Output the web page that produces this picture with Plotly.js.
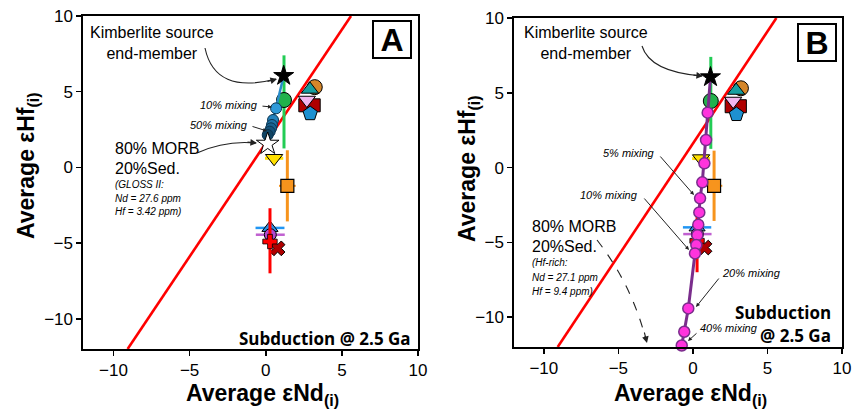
<!DOCTYPE html>
<html><head><meta charset="utf-8">
<script src="https://cdn.plot.ly/plotly-3.0.1.min.js"></script>
<style>body{margin:0;background:#fff}#chart{width:858px;height:409px}</style>
</head><body><div id="chart"></div>
<script>
// ---- data (εNd(i), εHf(i)) ----
const arrayNd = [-9.07, 5.6];          // terrestrial array line
const arrayHf = [-12, 10];
const kimNd = [1.18], kimHf = [6.05];  // kimberlite source end-member
const greenNd = [1.2], greenHf = [4.45], greenErrUp = [2.95], greenErrDn = [3.2];
const yellowNd = [0.55], yellowHf = [0.6], yellowErrX = [0.6];
const orangeNd = [1.42], orangeHf = [-1.22], orangeErrY = [2.35], orangeErrX = [0.55];
const halfNd = [3.22], halfHf = [5.3];
const tealNd = [2.9], tealHf = [5.15];
const pinkNd = [2.7], pinkHf = [4.45];
const redSqNd = [2.6, 3.15], redSqHf = [4.1, 4.1];
const pentNd = [2.92], pentHf = [3.55];
const blueTriNd = [0.28], blueTriHf = [-4.0], blueTriErrX = [0.95];
const purpNd = [0.3], purpHf = [-4.45], purpErrX = [0.95];
const redCrossNd = [0.28], redCrossHf = [-4.9], redCrossErrUp = [2.2], redCrossErrDn = [2.1];
const darkXNd = [0.78], darkXHf = [-5.35];
// panel A mixing (GLOSS II)
const mixANd = [0.68, 0.48, 0.41, 0.35, 0.26, 0.13];
const mixAHf = [3.9, 3.13, 2.8, 2.58, 2.36, 2.14];
const morbANd = [0.13], morbAHf = [1.55];
// panel B mixing (Hf-rich)
const mixBNd = [0.99, 0.88, 0.77, 0.63, 0.48, 0.43, 0.36, 0.30, 0.23, 0.14, -0.31, -0.58, -0.75];
const mixBHf = [3.67, 1.84, 0.28, -0.99, -2.06, -3.0, -3.82, -4.52, -5.18, -5.74, -9.42, -10.98, -11.9];
const tickVals = [-10, -5, 0, 5, 10];

const W = 858, H = 409;
const PX = x => x / W, PY = y => 1 - y / H;

function dataTraces(xa, ya) {
  const t = [];
  const base = {xaxis: xa, yaxis: ya, type: 'scatter', showlegend: false, hoverinfo: 'skip'};
  t.push({...base, x: arrayNd, y: arrayHf, mode: 'lines', line: {color: '#ff0000', width: 2.6}});
  t.push({...base, x: greenNd, y: greenHf, mode: 'markers',
    marker: {symbol: 'circle', size: 15, color: '#22b14c', line: {color: '#000', width: 1}},
    error_y: {type: 'data', symmetric: false, array: greenErrUp, arrayminus: greenErrDn, color: '#22cc55', thickness: 3, width: 0}});
  t.push({...base, x: orangeNd, y: orangeHf, mode: 'markers',
    marker: {symbol: 'square', size: 13, color: '#f7941d', line: {color: '#000', width: 1.2}},
    error_y: {type: 'data', array: orangeErrY, color: '#f7941d', thickness: 3, width: 0},
    error_x: {type: 'data', array: orangeErrX, color: '#f7941d', thickness: 2, width: 0}});
  t.push({...base, x: yellowNd, y: yellowHf, mode: 'markers',
    marker: {symbol: 'triangle-down', size: 15, color: '#ffe000', line: {color: '#000', width: 1}},
    error_x: {type: 'data', array: yellowErrX, color: '#ffe000', thickness: 3, width: 0}});
  t.push({...base, x: halfNd, y: halfHf, mode: 'markers',
    marker: {symbol: 'circle', size: 15, color: '#d4862a', line: {color: '#000', width: 1}}});
  t.push({...base, x: tealNd, y: tealHf, mode: 'markers',
    marker: {symbol: 'triangle-up', size: 15, color: '#17a0a0', line: {color: '#000', width: 1}}});
  t.push({...base, x: redSqNd, y: redSqHf, mode: 'markers',
    marker: {symbol: 'square', size: 13, color: '#b00000', line: {color: '#000', width: 1}}});
  t.push({...base, x: pinkNd, y: pinkHf, mode: 'markers',
    marker: {symbol: 'triangle-down', size: 15, color: '#f2b6ef', line: {color: '#000', width: 1}}});
  t.push({...base, x: pentNd, y: pentHf, mode: 'markers',
    marker: {symbol: 'pentagon', size: 15, color: '#1e90d0', line: {color: '#000', width: 1}}});
  t.push({...base, x: blueTriNd, y: blueTriHf, mode: 'markers',
    marker: {symbol: 'triangle-up', size: 14, color: '#2e8fe0', line: {color: '#000', width: 1}},
    error_x: {type: 'data', array: blueTriErrX, color: '#2196f3', thickness: 2.5, width: 0}});
  t.push({...base, x: purpNd, y: purpHf, mode: 'markers',
    marker: {symbol: 'circle', size: 12, color: '#b04ad0', line: {color: '#000', width: 1}},
    error_x: {type: 'data', array: purpErrX, color: '#c060d0', thickness: 2.5, width: 0}});
  t.push({...base, x: darkXNd, y: darkXHf, mode: 'markers',
    marker: {symbol: 'x', size: 13, color: '#b00000', line: {color: '#000', width: 1}}});
  t.push({...base, x: redCrossNd, y: redCrossHf, mode: 'markers',
    marker: {symbol: 'cross', size: 12, color: '#ff0000', line: {color: '#000', width: 0.8}},
    error_y: {type: 'data', symmetric: false, array: redCrossErrUp, arrayminus: redCrossErrDn, color: '#ff0000', thickness: 3, width: 0}});
  return t;
}

const traces = [];
// Panel A
traces.push(...dataTraces('x', 'y'));
traces.push({xaxis: 'x', yaxis: 'y', type: 'scatter', showlegend: false, hoverinfo: 'skip', mode: 'lines',
  x: kimNd.concat(mixANd, morbANd), y: kimHf.concat(mixAHf, morbAHf), line: {color: '#2a8cc8', width: 2.5}});
traces.push({xaxis: 'x', yaxis: 'y', type: 'scatter', showlegend: false, hoverinfo: 'skip', mode: 'markers',
  x: mixANd, y: mixAHf,
  marker: {size: 11, color: ['#2f9ad8', '#2683bd', '#1f72a6', '#1a6290', '#15527a', '#104463'], line: {color: '#0d3550', width: 1}}});
traces.push({xaxis: 'x', yaxis: 'y', type: 'scatter', showlegend: false, hoverinfo: 'skip', mode: 'markers',
  x: morbANd, y: morbAHf, marker: {symbol: 'star', size: 17, color: '#ffffff', line: {color: '#000', width: 1}}});
traces.push({xaxis: 'x', yaxis: 'y', type: 'scatter', showlegend: false, hoverinfo: 'skip', mode: 'markers',
  x: kimNd, y: kimHf, marker: {symbol: 'star', size: 15, color: '#000000', line: {color: '#000', width: 1}}});
// Panel B
traces.push(...dataTraces('x2', 'y2'));
traces.push({xaxis: 'x2', yaxis: 'y2', type: 'scatter', showlegend: false, hoverinfo: 'skip', mode: 'lines',
  cliponaxis: false,
  x: kimNd.concat(mixBNd), y: kimHf.concat(mixBHf), line: {color: '#7a2d8c', width: 3}});
traces.push({xaxis: 'x2', yaxis: 'y2', type: 'scatter', showlegend: false, hoverinfo: 'skip', mode: 'markers',
  cliponaxis: false, x: mixBNd, y: mixBHf,
  marker: {size: 11, color: '#ff33dd', line: {color: '#7a2d8c', width: 1.5}}});
traces.push({xaxis: 'x2', yaxis: 'y2', type: 'scatter', showlegend: false, hoverinfo: 'skip', mode: 'markers',
  x: kimNd, y: kimHf, marker: {symbol: 'star', size: 15, color: '#000000', line: {color: '#000', width: 1}}});

const axBase = {range: [-12, 10], tickvals: tickVals, showline: true, linecolor: '#000', linewidth: 1.6,
  mirror: true, ticks: 'outside', ticklen: 5, tickwidth: 1.6, tickcolor: '#000', showgrid: false,
  zeroline: false, fixedrange: true, tickfont: {family: 'Liberation Sans, Arial, sans-serif', size: 17, color: '#000'}};

const F = 'Liberation Sans, Arial, sans-serif';
const ann = [];
function txt(text, x, y, size, anchor, extra) {
  ann.push(Object.assign({xref: 'paper', yref: 'paper', x: PX(x), y: PY(y), text: text, showarrow: false,
    xanchor: anchor || 'center', yanchor: 'middle', font: {family: F, size: size, color: '#000'}}, extra || {}));
}
function arrowHead(hx, hy, tx, ty, w, size) {
  ann.push({xref: 'paper', yref: 'paper', x: PX(hx), y: PY(hy), ax: tx - hx, ay: ty - hy, text: '',
    showarrow: true, arrowhead: 2, arrowsize: size || 1, arrowwidth: w || 1, arrowcolor: '#222', standoff: 0});
}
const shapes = [];
function curve(x0, y0, cx, cy, x1, y1, dash) {
  shapes.push({type: 'path', xref: 'paper', yref: 'paper',
    path: `M ${PX(x0)},${PY(y0)} Q ${PX(cx)},${PY(cy)} ${PX(x1)},${PY(y1)}`,
    line: {color: '#222', width: 1.1, dash: dash || 'solid'}});
}

// axis titles
const xt = '<b>Average εNd<sub>(i)</sub></b>', yt = '<b>Average εHf<sub>(i)</sub></b>';
txt(xt, 262, 394, 23, 'center');
txt(xt, 690, 394, 23, 'center');
txt(yt, 27, 166, 23, 'center', {textangle: -90});
txt(yt, 468, 168, 23, 'center', {textangle: -90});

// Panel A annotations
txt('Kimberlite source<br>end-member', 152, 43, 16, 'center');
curve(205, 48, 215, 95, 276, 79);
arrowHead(277, 79, 266, 82, 1.1, 1.2);
txt('<i>10% mixing</i>', 260, 105, 11, 'right');
arrowHead(272, 107, 261, 106, 1, 0.8);
txt('<i>50% mixing</i>', 250, 125, 11, 'right');
arrowHead(267, 131, 251, 126, 1, 0.8);
txt('80% MORB', 113, 148, 16, 'left');
txt('20%Sed.', 113, 168, 16, 'left');
txt('<i>(GLOSS II:</i>', 113, 185, 10, 'left');
txt('<i>Nd = 27.6 ppm</i>', 113, 198, 10, 'left');
txt('<i>Hf = 3.42 ppm)</i>', 113, 211, 10, 'left');
curve(197, 153, 225, 140, 256, 143);
arrowHead(257, 143, 246, 142, 1.1, 1.2);
txt('<b>A</b>', 392, 39.5, 32, 'center', {bordercolor: '#000', borderwidth: 2, borderpad: 0, width: 36, height: 35, bgcolor: '#fff'});
txt('<b>Subduction @ 2.5 Ga</b>', 413, 338, 17, 'right', {font: {family: 'Open Sans, sans-serif', size: 17, color: '#000'}});

// Panel B annotations
txt('Kimberlite source<br>end-member', 586, 43, 16, 'center');
curve(642, 46, 650, 72, 702, 76);
arrowHead(703, 76, 692, 75, 1.1, 1.2);
txt('<i>5% mixing</i>', 657, 153, 11, 'right');
arrowHead(694, 195, 659, 155, 1, 0.8);
txt('<i>10% mixing</i>', 640, 195, 11, 'right');
arrowHead(689, 250, 643, 197, 1, 0.8);
txt('<i>20% mixing</i>', 720, 273, 11, 'left');
arrowHead(696, 307, 720, 277, 1, 0.8);
txt('<i>40% mixing</i>', 698, 328, 11, 'left');
arrowHead(688, 341, 698, 332, 1, 0.8);
txt('80% MORB', 530, 227, 16, 'left');
txt('20%Sed.', 530, 247, 16, 'left');
txt('<i>(Hf-rich:</i>', 530, 262, 10, 'left');
txt('<i>Nd = 27.1 ppm</i>', 530, 277, 10, 'left');
txt('<i>Hf = 9.4 ppm)</i>', 530, 291, 10, 'left');
curve(597, 240, 632, 285, 646, 340, 'dash');
arrowHead(647, 343, 644, 331, 1.1, 1.2);
txt('<b>B</b>', 817, 42, 32, 'center', {bordercolor: '#000', borderwidth: 2, borderpad: 0, width: 36, height: 35, bgcolor: '#fff'});
txt('<b>Subduction</b>', 833, 312, 17, 'right', {font: {family: 'Open Sans, sans-serif', size: 17, color: '#000'}});
txt('<b>@ 2.5 Ga</b>', 833, 335, 17, 'right', {font: {family: 'Open Sans, sans-serif', size: 17, color: '#000'}});

const layout = {
  width: W, height: H, margin: {l: 0, r: 0, t: 0, b: 0}, paper_bgcolor: '#fff', plot_bgcolor: '#fff',
  showlegend: false,
  xaxis: {...axBase, domain: [PX(83), PX(418)], anchor: 'y'},
  yaxis: {...axBase, domain: [PY(349), PY(16)], anchor: 'x'},
  xaxis2: {...axBase, domain: [PX(514), PX(842)], anchor: 'y2'},
  yaxis2: {...axBase, domain: [PY(347), PY(18)], anchor: 'x2'},
  annotations: ann, shapes: shapes
};
Plotly.newPlot('chart', traces, layout, {staticPlot: true, displayModeBar: false});
</script></body></html>
